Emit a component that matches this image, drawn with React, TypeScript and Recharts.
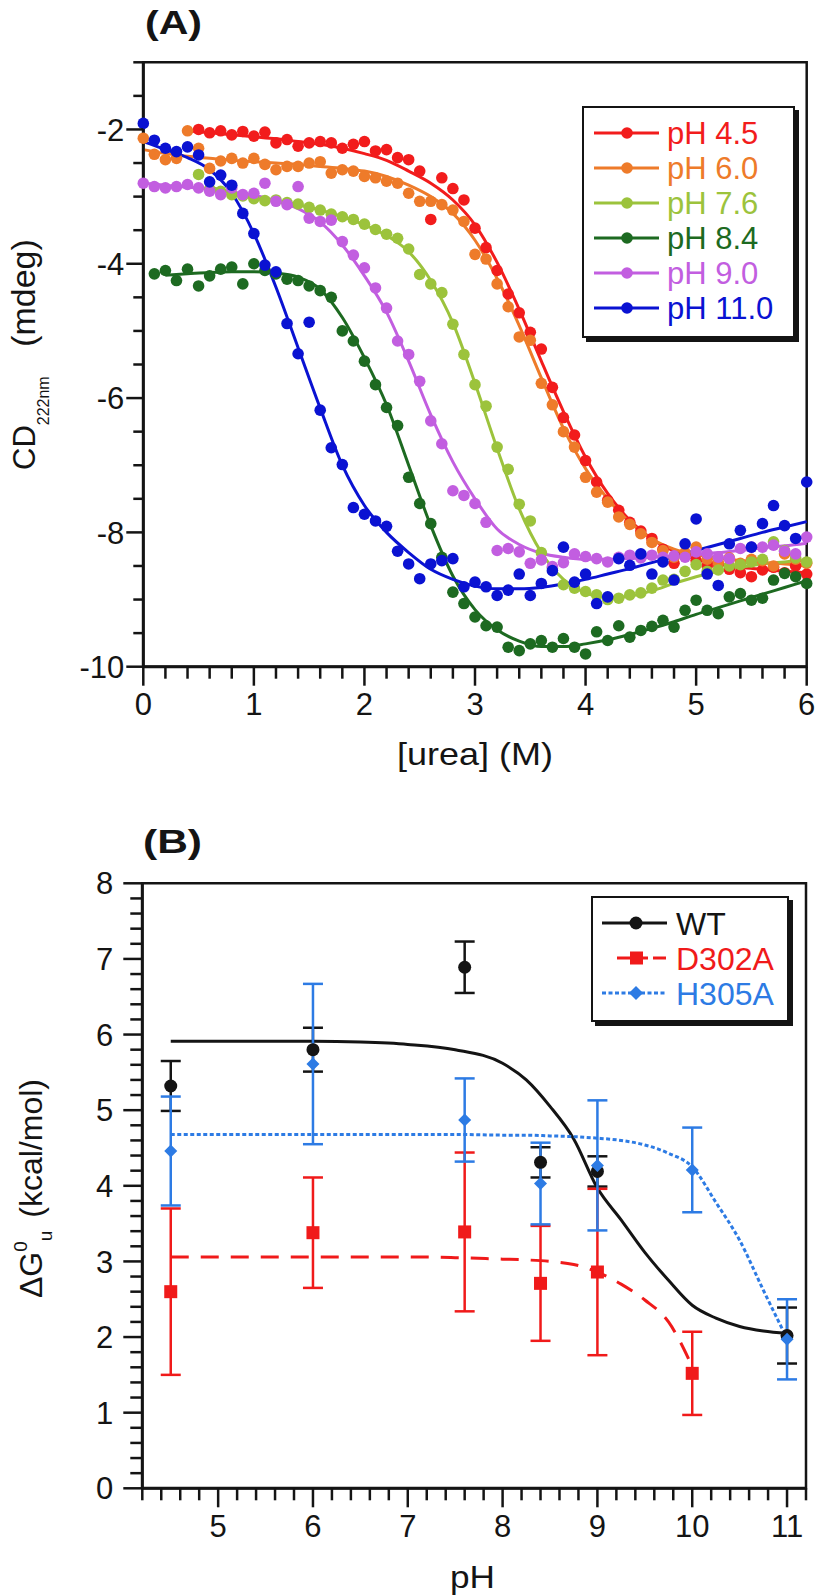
import React from "react";
import {
  ComposedChart,
  Line,
  Scatter,
  XAxis,
  YAxis,
  Label,
  Legend,
  ReferenceArea,
  ErrorBar,
} from "recharts";

const FONT = "'Liberation Sans', Arial, Helvetica, sans-serif";
const INK = "#141414";

// ---------- (A) urea denaturation, CD at 222 nm ----------
const UREA_M = [
  0, 0.1, 0.2, 0.3, 0.4, 0.5, 0.6, 0.7, 0.8, 0.9, 1, 1.1, 1.2, 1.3, 1.4, 1.5, 1.6, 1.7, 1.8, 1.9, 2, 2.1,
  2.2, 2.3, 2.4, 2.5, 2.6, 2.7, 2.8, 2.9, 3, 3.1, 3.2, 3.3, 3.4, 3.5, 3.6, 3.7, 3.8, 3.9, 4, 4.1, 4.2, 4.3,
  4.4, 4.5, 4.6, 4.7, 4.8, 4.9, 5, 5.1, 5.2, 5.3, 5.4, 5.5, 5.6, 5.7, 5.8, 5.9, 6,
];

const CD_PH45 = [
  null, null, null, null, null,
  -2.0, -2.05, -2.02, -2.08, -2.03, -2.1, -2.04, -2.2, -2.15, -2.25, -2.2, -2.18, -2.2, -2.28, -2.22,
  -2.18, -2.32, -2.3, -2.42, -2.45, -2.62, -3.34, -2.72, -2.88, -3.05, -3.47, -3.76, -4.1, -4.45, -4.73,
  -5.02, -5.27, -5.84, -6.29, -6.55, -6.93, -7.25, -7.52, -7.67, -7.85, -7.98, -8.09, -8.25, -8.46, -8.35,
  -8.42, -8.5, -8.47, -8.55, -8.6, -8.66, -8.56, -8.52, -8.6, -8.5, -8.62,
];
const CD_PH60 = [
  -2.13, -2.37, -2.45, -2.43, -2.02, -2.28, -2.58, -2.47, -2.43, -2.5, -2.43, -2.52, -2.6, -2.55, -2.55,
  -2.5, -2.48, -2.65, -2.6, -2.62, -2.7, -2.72, -2.77, -2.8, -2.95, -3.07, -3.07, -3.12, -3.2, -3.37,
  -3.86, -3.93, -4.3, -4.64, -5.09, -5.14, -5.78, -6.1, -6.5, -6.73, -7.18, -7.4, -7.55, -7.77, -7.88,
  -8.02, -8.15, -8.27, -8.37, -8.3, -8.22, -8.4, -8.45, -8.38, -8.46, -8.4, -8.42, -8.5, -8.32, -8.4, -8.46,
];
const CD_PH76 = [
  null, null, null, null, null,
  -2.67, -2.89, -2.92, -2.97, -2.99, -3.03, -3.06, -3.05, -3.09, -3.11, -3.16, -3.2, -3.26, -3.3, -3.34,
  -3.41, -3.49, -3.56, -3.62, -3.78, -4.16, -4.3, -4.43, -4.9, -5.35, -5.8, -6.12, -6.73, -7.06, -7.58,
  -7.83, -8.3, -8.53, -8.78, -8.83, -8.88, -8.93, -9.0, -8.98, -8.93, -8.9, -8.83, -8.71, -8.7, -8.58,
  -8.48, -8.58, -8.56, -8.5, -8.48, -8.44, -8.4, -8.14, -8.27, -8.38, -8.44,
];
const CD_PH84 = [
  null, -4.15, -4.1, -4.25, -4.08, -4.33, -4.18, -4.08, -4.05, -4.3, -4.0, -4.1, -4.15, -4.23, -4.25,
  -4.33, -4.4, -4.5, -5.0, -5.15, -5.45, -5.8, -6.14, -6.41, -7.18, -7.57, -7.87, -8.37, -8.89, -9.06,
  -9.26, -9.39, -9.41, -9.71, -9.76, -9.66, -9.61, -9.71, -9.58, -9.71, -9.81, -9.48, -9.61, -9.39, -9.56,
  -9.46, -9.4, -9.31, -9.41, -9.16, -9.01, -9.16, -9.21, -8.96, -8.91, -9.01, -8.98, -8.71, -8.61, -8.66, -8.76,
];
const CD_PH90 = [
  -2.8, -2.85, -2.87, -2.85, -2.82, -2.87, -2.92, -2.97, -2.87, -2.97, -2.95, -2.8, -3.07, -3.12, -2.85,
  -3.32, -3.37, -3.35, -3.67, -3.87, -4.06, -4.36, -4.66, -5.15, -5.35, -5.75, -6.34, -6.68, -7.38, -7.45,
  -7.57, -7.85, -8.27, -8.24, -8.29, -8.46, -8.41, -8.51, -8.45, -8.32, -8.36, -8.39, -8.44, -8.37, -8.34,
  -8.38, -8.34, -8.37, -8.35, -8.37, -8.29, -8.32, -8.37, -8.39, -8.24, -8.22, -8.22, -8.19, -8.28, -8.32, -8.07,
];
const CD_PH110 = [
  -1.91, -2.16, -2.28, -2.33, -2.26, -2.38, -2.78, -2.68, -2.83, -3.25, -3.55, -4.02, -4.12, -4.89, -5.34,
  -4.87, -6.18, -6.74, -6.99, -7.63, -7.73, -7.83, -7.91, -8.28, -8.47, -8.69, -8.47, -8.42, -8.39, -8.81,
  -8.74, -8.81, -8.94, -8.86, -8.62, -8.94, -8.76, -8.57, -8.22, -8.74, -8.62, -9.06, -8.96, -8.39, -8.49,
  -8.32, -8.62, -8.44, -8.71, -8.17, -7.8, -8.62, -8.79, -8.17, -7.97, -8.22, -7.87, -7.6, -7.9, -8.09, -7.25,
];

// fitted two-state curves
const FIT_UREA = [
  0, 0.2, 0.4, 0.6, 0.8, 1, 1.2, 1.4, 1.6, 1.8, 2, 2.2, 2.4, 2.6, 2.8, 3, 3.2, 3.4, 3.6, 3.8, 4, 4.2, 4.4,
  4.6, 4.8, 5, 5.2, 5.4, 5.6, 5.8, 6,
];
const FIT_PH45 = [
  null, null, -2.02, -2.05, -2.08, -2.11, -2.14, -2.18, -2.22, -2.28, -2.36, -2.46, -2.62, -2.8, -3.05,
  -3.42, -3.98, -4.68, -5.45, -6.2, -6.88, -7.42, -7.82, -8.1, -8.28, -8.4, -8.47, -8.52, -8.55, -8.58, -8.6,
];
const FIT_PH60 = [
  -2.3, -2.36, -2.4, -2.43, -2.46, -2.48, -2.5, -2.52, -2.55, -2.58, -2.62, -2.7, -2.83, -3.0, -3.25,
  -3.65, -4.22, -4.92, -5.7, -6.45, -7.05, -7.5, -7.85, -8.1, -8.25, -8.33, -8.38, -8.42, -8.45, -8.47, -8.5,
];
const FIT_PH76 = [
  null, null, null, -2.85, -2.95, -3.02, -3.07, -3.12, -3.2, -3.3, -3.42, -3.58, -3.82, -4.25, -4.88,
  -5.78, -6.75, -7.65, -8.3, -8.7, -8.9, -8.97, -8.95, -8.87, -8.76, -8.66, -8.58, -8.52, -8.47, -8.44, -8.42,
];
const FIT_PH84 = [
  null, -4.17, -4.15, -4.13, -4.12, -4.12, -4.14, -4.2, -4.38, -4.8, -5.4, -6.1, -7.0, -7.9, -8.65,
  -9.15, -9.45, -9.62, -9.7, -9.7, -9.66, -9.6, -9.52, -9.43, -9.33, -9.22, -9.12, -9.02, -8.92, -8.82, -8.72,
];
const FIT_PH90 = [
  -2.8, -2.83, -2.86, -2.89, -2.93, -2.98, -3.06, -3.18, -3.38, -3.72, -4.18, -4.72, -5.45, -6.25, -6.95,
  -7.5, -7.95, -8.18, -8.31, -8.37, -8.4, -8.4, -8.39, -8.37, -8.35, -8.33, -8.3, -8.27, -8.23, -8.2, -8.16,
];
const FIT_PH110 = [
  -2.18, -2.3, -2.42, -2.6, -2.95, -3.55, -4.35, -5.25, -6.15, -7.0, -7.6, -8.0, -8.3, -8.55, -8.7,
  -8.8, -8.84, -8.84, -8.82, -8.77, -8.7, -8.62, -8.54, -8.45, -8.36, -8.27, -8.18, -8.09, -8.0, -7.92, -7.84,
];

const A_X_TICKS = [
  0, 0.2, 0.4, 0.6, 0.8, 1, 1.2, 1.4, 1.6, 1.8, 2, 2.2, 2.4, 2.6, 2.8, 3, 3.2, 3.4, 3.6, 3.8, 4, 4.2, 4.4,
  4.6, 4.8, 5, 5.2, 5.4, 5.6, 5.8, 6,
];
const A_X_LABELS = [0, 1, 2, 3, 4, 5, 6];
const A_Y_TICKS = [-10, -9.5, -9, -8.5, -8, -7.5, -7, -6.5, -6, -5.5, -5, -4.5, -4, -3.5, -3, -2.5, -2, -1.5, -1];
const A_Y_LABELS = [-10, -8, -6, -4, -2];

const CD_SERIES = [
  { name: "pH 4.5", color: "#f21c1c", points: CD_PH45, fit: FIT_PH45 },
  { name: "pH 6.0", color: "#ee7b2a", points: CD_PH60, fit: FIT_PH60 },
  { name: "pH 7.6", color: "#9cc33c", points: CD_PH76, fit: FIT_PH76 },
  { name: "pH 8.4", color: "#1d6a21", points: CD_PH84, fit: FIT_PH84 },
  { name: "pH 9.0", color: "#c25ee0", points: CD_PH90, fit: FIT_PH90 },
  { name: "pH 11.0", color: "#0a12d2", points: CD_PH110, fit: FIT_PH110 },
];

// ---------- (B) unfolding free energy vs pH ----------
const PH = [4.5, 6, 7.6, 8.4, 9, 10, 11];
const DG_WT = [5.32, 5.8, 6.89, 4.31, 4.19, null, 2.02];
const DG_WT_ERR = [0.33, 0.29, 0.34, 0.2, 0.2, null, 0.37];
const DG_D302A = [2.6, 3.38, 3.39, 2.71, 2.86, 1.52, null];
const DG_D302A_ERR = [1.1, 0.73, 1.05, 0.76, 1.1, 0.55, null];
const DG_H305A = [4.46, 5.61, 4.87, 4.03, 4.27, 4.21, 1.97];
const DG_H305A_ERR = [0.72, 1.06, 0.55, 0.54, 0.86, 0.56, 0.53];

const FIT_PH = [4.5, 5, 5.5, 6, 6.5, 7, 7.5, 8, 8.25, 8.5, 8.75, 9, 9.25, 9.5, 9.75, 10, 10.25, 10.5, 10.75, 11];
const FIT_WT = [5.91, 5.91, 5.91, 5.91, 5.9, 5.87, 5.8, 5.62, 5.4, 5.05, 4.62, 3.97, 3.55, 3.12, 2.75, 2.42, 2.25, 2.14, 2.08, 2.05];
const FIT_D302A = [3.06, 3.06, 3.06, 3.06, 3.06, 3.06, 3.05, 3.03, 3.02, 3.0, 2.96, 2.86, 2.7, 2.49, 2.2, 1.61, null, null, null, null];
const FIT_H305A = [4.68, 4.68, 4.68, 4.68, 4.68, 4.68, 4.68, 4.67, 4.67, 4.66, 4.65, 4.63, 4.6, 4.54, 4.43, 4.25, 3.78, 3.28, 2.62, 1.98];

const B_X_TICKS = [
  4.2, 4.4, 4.6, 4.8, 5, 5.2, 5.4, 5.6, 5.8, 6, 6.2, 6.4, 6.6, 6.8, 7, 7.2, 7.4, 7.6, 7.8, 8, 8.2, 8.4, 8.6,
  8.8, 9, 9.2, 9.4, 9.6, 9.8, 10, 10.2, 10.4, 10.6, 10.8, 11, 11.2,
];
const B_X_LABELS = [5, 6, 7, 8, 9, 10, 11];
const B_Y_TICKS = [
  0, 0.2, 0.4, 0.6, 0.8, 1, 1.2, 1.4, 1.6, 1.8, 2, 2.2, 2.4, 2.6, 2.8, 3, 3.2, 3.4, 3.6, 3.8, 4, 4.2, 4.4,
  4.6, 4.8, 5, 5.2, 5.4, 5.6, 5.8, 6, 6.2, 6.4, 6.6, 6.8, 7, 7.2, 7.4, 7.6, 7.8, 8,
];
const B_Y_LABELS = [0, 1, 2, 3, 4, 5, 6, 7, 8];

const RED_B = "#f01a1a";
const BLUE_B = "#2d7be4";

function pairs(xs: number[], ys: (number | null)[], errs?: (number | null)[]) {
  return xs
    .map((x, i) => ({ x, y: ys[i], err: errs ? errs[i] : undefined }))
    .filter((p) => p.y != null);
}

const isMajor = (list: number[], v: number) => list.some((m) => Math.abs(m - v) < 1e-6);

// ticks drawn by hand so majors can be longer than minors
function bottomTick(labels: number[], majorLen: number, minorLen: number, gap: number) {
  return (props: any) => {
    const { x, y, payload } = props;
    const major = isMajor(labels, payload.value);
    return (
      <g>
        <line x1={x} x2={x} y1={y} y2={y + (major ? majorLen : minorLen)} stroke={INK} strokeWidth={2.5} />
        {major && (
          <text x={x} y={y + gap} textAnchor="middle" fontSize={31} fontFamily={FONT} fill={INK}>
            {payload.value}
          </text>
        )}
      </g>
    );
  };
}

function leftTick(labels: number[], majorLen: number, minorLen: number, gap: number) {
  return (props: any) => {
    const { x, y, payload } = props;
    const major = isMajor(labels, payload.value);
    return (
      <g>
        <line x1={x - (major ? majorLen : minorLen)} x2={x} y1={y} y2={y} stroke={INK} strokeWidth={2.5} />
        {major && (
          <text x={x - gap} y={y} dy="0.36em" textAnchor="end" fontSize={31} fontFamily={FONT} fill={INK}>
            {payload.value}
          </text>
        )}
      </g>
    );
  };
}

function CdLegend() {
  return (
    <div
      style={{
        width: 213,
        height: 232,
        boxSizing: "border-box",
        border: `2px solid ${INK}`,
        background: "#fff",
        boxShadow: `4px 4px 0 ${INK}`,
      }}
    >
      <svg width={209} height={228} style={{ display: "block" }}>
        {CD_SERIES.map((s, i) => {
          const cy = 25 + i * 35;
          return (
            <g key={s.name}>
              <line x1={10} x2={75} y1={cy} y2={cy} stroke={s.color} strokeWidth={3} />
              <circle cx={43} cy={cy} r={5.8} fill={s.color} />
              <text x={83} y={cy} dy="0.36em" fontSize={31} fontFamily={FONT} fill={s.color}>
                {s.name}
              </text>
            </g>
          );
        })}
      </svg>
    </div>
  );
}

const square = (color: string, half: number) => (p: any) =>
  <rect x={p.cx - half} y={p.cy - half} width={half * 2} height={half * 2} fill={color} />;
const diamond = (color: string, r: number) => (p: any) =>
  <path d={`M${p.cx},${p.cy - r}L${p.cx + r},${p.cy}L${p.cx},${p.cy + r}L${p.cx - r},${p.cy}Z`} fill={color} />;
const dot = (color: string, r: number) => (p: any) => <circle cx={p.cx} cy={p.cy} r={r} fill={color} />;

function DgLegend() {
  const rows = [
    { name: "WT", color: INK, dash: undefined, x1: 9, mark: <circle cx={43} cy={0} r={6.5} fill={INK} /> },
    { name: "D302A", color: RED_B, dash: "13 5", x1: 24, mark: <rect x={37} y={-6.5} width={13} height={13} fill={RED_B} /> },
    { name: "H305A", color: BLUE_B, dash: "4 2.5", x1: 9, mark: <path d="M43,-7L50,0L43,7L36,0Z" fill={BLUE_B} /> },
  ];
  return (
    <div
      style={{
        width: 198,
        height: 126,
        boxSizing: "border-box",
        border: `2px solid ${INK}`,
        background: "#fff",
        boxShadow: `4px 4px 0 ${INK}`,
      }}
    >
      <svg width={194} height={122} style={{ display: "block" }}>
        {rows.map((r, i) => {
          const cy = 25 + i * 35;
          return (
            <g key={r.name} transform={`translate(0 ${cy})`}>
              <line x1={r.x1} x2={74} y1={0} y2={0} stroke={r.color} strokeWidth={3} strokeDasharray={r.dash} />
              {r.mark}
              <text x={83} y={0} dy="0.36em" fontSize={32} fontFamily={FONT} fill={r.color}>
                {r.name}
              </text>
            </g>
          );
        })}
      </svg>
    </div>
  );
}

function PanelA() {
  return (
    <div style={{ position: "absolute", left: 0, top: 0, width: 816, height: 790 }}>
      <ComposedChart width={816} height={790} margin={{ top: 62.3, right: 9.3, bottom: 23.3, left: 0 }}>
        <XAxis
          type="number"
          dataKey="x"
          domain={[0, 6]}
          ticks={A_X_TICKS}
          interval={0}
          height={100}
          tickSize={0}
          tickMargin={0}
          tickLine={false}
          axisLine={{ stroke: INK, strokeWidth: 3 }}
          tick={bottomTick(A_X_LABELS, 19, 12, 48.5)}
        >
          <Label
            content={() => (
              <text x={475} y={765} textAnchor="middle" fontSize={32} fontFamily={FONT} fill={INK} textLength={156} lengthAdjust="spacingAndGlyphs">
                [urea] (M)
              </text>
            )}
          />
        </XAxis>
        <YAxis
          type="number"
          domain={[-10, -1]}
          ticks={A_Y_TICKS}
          interval={0}
          width={143.3}
          tickSize={0}
          tickMargin={0}
          tickLine={false}
          axisLine={{ stroke: INK, strokeWidth: 3 }}
          tick={leftTick(A_Y_LABELS, 17, 10, 19)}
        >
          <Label
            content={() => (
              <text x={35} y={470} transform="rotate(-90 35 470)" fontFamily={FONT} fill={INK} fontSize={31}>
                CD
                <tspan fontSize={16} dy={14}>222nm</tspan>
                <tspan fontSize={34} dy={-14} dx={20}> (mdeg)</tspan>
              </text>
            )}
          />
        </YAxis>
        <ReferenceArea x1={0} x2={6} y1={-10} y2={-1} fill="none" stroke={INK} strokeWidth={2.5} />
        {CD_SERIES.map((s) => (
          <React.Fragment key={s.name}>
            <Scatter
              data={pairs(UREA_M, s.points)}
              dataKey="y"
              shape={dot(s.color, 5.8)}
              isAnimationActive={false}
            />
            <Line
              data={pairs(FIT_UREA, s.fit)}
              dataKey="y"
              type="monotone"
              stroke={s.color}
              strokeWidth={3}
              dot={false}
              activeDot={false}
              isAnimationActive={false}
            />
          </React.Fragment>
        ))}
        <Legend
          layout="horizontal"
          verticalAlign="middle"
          align="center"
          content={() => <CdLegend />}
          wrapperStyle={{ left: 581.7, top: 106, width: 213, height: 232 }}
        />
      </ComposedChart>
      <svg width={816} height={50} style={{ position: "absolute", left: 0, top: 0, pointerEvents: "none" }}>
        <text x={145} y={34} fontSize={34} fontWeight="bold" fontFamily={FONT} fill={INK} textLength={57} lengthAdjust="spacingAndGlyphs">
          (A)
        </text>
      </svg>
    </div>
  );
}

function PanelB() {
  return (
    <div style={{ position: "absolute", left: 0, top: 800, width: 816, height: 796 }}>
      <ComposedChart width={816} height={796} margin={{ top: 83.3, right: 10, bottom: 7.7, left: 0 }}>
        <XAxis
          type="number"
          dataKey="x"
          domain={[4.2, 11.2]}
          ticks={B_X_TICKS}
          interval={0}
          height={100}
          tickSize={0}
          tickMargin={0}
          tickLine={false}
          axisLine={{ stroke: INK, strokeWidth: 3 }}
          tick={bottomTick(B_X_LABELS, 19, 12, 48.5)}
        >
          <Label
            content={() => (
              <text x={472.5} y={788} textAnchor="middle" fontSize={31} fontFamily={FONT} fill={INK} textLength={45} lengthAdjust="spacingAndGlyphs">
                pH
              </text>
            )}
          />
        </XAxis>
        <YAxis
          type="number"
          domain={[0, 8]}
          ticks={B_Y_TICKS}
          interval={0}
          width={142.3}
          tickSize={0}
          tickMargin={0}
          tickLine={false}
          axisLine={{ stroke: INK, strokeWidth: 3 }}
          tick={leftTick(B_Y_LABELS, 19, 12, 29)}
        >
          <Label
            content={() => (
              <text x={42} y={498} transform="rotate(-90 42 498)" fontFamily={FONT} fill={INK} fontSize={32}>
                ΔG
                <tspan fontSize={19} dy={-15}>0</tspan>
                <tspan fontSize={19} dy={25}>u</tspan>
                <tspan dy={-10} dx={4}> (kcal/mol)</tspan>
              </text>
            )}
          />
        </YAxis>
        <ReferenceArea x1={4.2} x2={11.2} y1={0} y2={8} fill="none" stroke={INK} strokeWidth={2.5} />
        <Line data={pairs(FIT_PH, FIT_WT)} dataKey="y" type="monotone" stroke={INK} strokeWidth={3} dot={false} activeDot={false} isAnimationActive={false} />
        <Line data={pairs(FIT_PH, FIT_D302A)} dataKey="y" type="monotone" stroke={RED_B} strokeWidth={3} strokeDasharray="18 12" dot={false} activeDot={false} isAnimationActive={false} />
        <Line data={pairs(FIT_PH, FIT_H305A)} dataKey="y" type="monotone" stroke={BLUE_B} strokeWidth={3} strokeDasharray="4 2.5" dot={false} activeDot={false} isAnimationActive={false} />
        <Scatter data={pairs(PH, DG_WT, DG_WT_ERR)} dataKey="y" shape={dot(INK, 6.5)} isAnimationActive={false}>
          <ErrorBar dataKey="err" direction="y" width={10} stroke={INK} strokeWidth={2.5} />
        </Scatter>
        <Scatter data={pairs(PH, DG_D302A, DG_D302A_ERR)} dataKey="y" shape={square(RED_B, 6.5)} isAnimationActive={false}>
          <ErrorBar dataKey="err" direction="y" width={10} stroke={RED_B} strokeWidth={2.5} />
        </Scatter>
        <Scatter data={pairs(PH, DG_H305A, DG_H305A_ERR)} dataKey="y" shape={diamond(BLUE_B, 6.5)} isAnimationActive={false}>
          <ErrorBar dataKey="err" direction="y" width={10} stroke={BLUE_B} strokeWidth={2.5} />
        </Scatter>
        <Legend
          layout="horizontal"
          verticalAlign="middle"
          align="center"
          content={() => <DgLegend />}
          wrapperStyle={{ left: 590.7, top: 96, width: 198, height: 126 }}
        />
      </ComposedChart>
      <svg width={816} height={70} style={{ position: "absolute", left: 0, top: 0, pointerEvents: "none" }}>
        <text x={143} y={53} fontSize={34} fontWeight="bold" fontFamily={FONT} fill={INK} textLength={59} lengthAdjust="spacingAndGlyphs">
          (B)
        </text>
      </svg>
    </div>
  );
}

export default function App() {
  return (
    <div style={{ position: "absolute", left: 0, top: 0, width: 816, height: 1596, background: "#fff", fontFamily: FONT }}>
      <PanelA />
      <PanelB />
    </div>
  );
}
